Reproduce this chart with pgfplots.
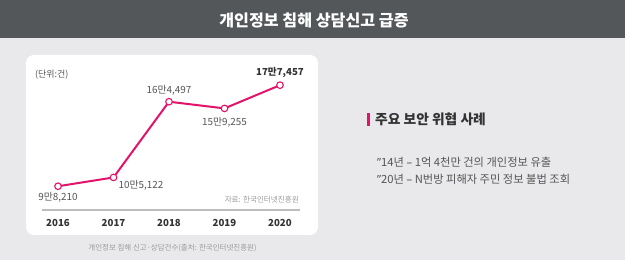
\documentclass[border=0pt]{standalone}
\usepackage{fontspec}
\setmainfont{Noto Sans CJK KR}
\newfontfamily\lat{Noto Sans}
\usepackage{pgfplots}
\pgfplotsset{compat=1.18}
\definecolor{bg}{HTML}{E9E9EB}
\definecolor{bar}{HTML}{54575A}
\definecolor{pinkline}{HTML}{E3136A}
\definecolor{dark}{HTML}{333333}
\definecolor{mid}{HTML}{555555}
\definecolor{light}{HTML}{9A9A9A}
\definecolor{base}{HTML}{BDBDBD}
\begin{document}
\begin{tikzpicture}
\fill[bg] (0bp,0bp) rectangle (625bp,260bp);
\useasboundingbox (0bp,0bp) rectangle (625bp,260bp);
\fill[bar] (0bp,222bp) rectangle (625bp,260bp);
\node[text=white,font=\fontsize{16.2}{19}\selectfont\bfseries] at (314bp,240bp) {개인정보 침해 상담신고 급증};
\fill[white,rounded corners=8bp] (26bp,25bp) rectangle (318bp,205bp);
\draw[base, line width=1.5bp] (42bp,50bp) -- (300bp,50bp);
\node[anchor=west,text=mid,font=\fontsize{9}{10}\selectfont,inner sep=0] at (35bp,185bp) {(단위:건)};
\node[anchor=east,text=light,font=\fontsize{7.6}{9}\selectfont,inner sep=0] at (299bp,60bp) {자료: 한국인터넷진흥원};
\node[text=light,font=\fontsize{7.5}{9}\selectfont,inner sep=0] at (172.5bp,12bp) {개인정보 침해 신고·상담건수(출처: 한국인터넷진흥원)};
\begin{axis}[
  at={(58bp,50bp)}, anchor=south west,
  scale only axis, width=222bp, height=150bp,
  xmin=2016, xmax=2020, ymin=79600, ymax=197200,
  axis line style={draw=none}, tick style={draw=none},
  ytick=\empty,
  xtick={2016,2017,2018,2019,2020},
  xticklabels={2016,2017,2018,2019,2020},
  xticklabel style={font=\fontsize{9.7}{11}\selectfont\bfseries, text=dark, anchor=center, yshift=-13bp},
  clip=false,
]
\addplot[pinkline, line width=2bp, mark=*, mark size=3.3bp,
  mark options={fill=white, draw=pinkline, line width=1.1bp}]
  coordinates {(2016,98210)(2017,105122)(2018,164497)(2019,159255)(2020,177457)};
\tikzset{lab/.style={text=mid,font=\fontsize{9.9}{11}\selectfont,inner sep=0}}
\node[lab,yshift=-11bp] at (axis cs:2016,98210) {9만8,210};
\node[lab,anchor=west,xshift=5bp,yshift=-8bp] at (axis cs:2017,105122) {10만5,122};
\node[lab,yshift=11bp] at (axis cs:2018,164497) {16만4,497};
\node[lab,yshift=-14bp] at (axis cs:2019,159255) {15만9,255};
\node[lab,text=dark,font=\fontsize{9.7}{11}\selectfont\bfseries,yshift=13bp] at (axis cs:2020,177457) {17만7,457};
\end{axis}
\fill[pinkline] (367bp,134bp) rectangle (369.5bp,147bp);
\node[anchor=west,text=dark,font=\fontsize{13.8}{15}\selectfont\bfseries,inner sep=0] at (375bp,141bp) {주요 보안 위협 사례};
\node[anchor=west,text=mid,font=\fontsize{11.3}{13}\selectfont,inner sep=0] at (377bp,98bp) {{\lat ”}14년 {\lat –} 1억 4천만 건의 개인정보 유출};
\node[anchor=west,text=mid,font=\fontsize{11.3}{13}\selectfont,inner sep=0] at (377bp,81bp) {{\lat ”}20년 {\lat –} N번방 피해자 주민 정보 불법 조회};
\end{tikzpicture}
\end{document}
